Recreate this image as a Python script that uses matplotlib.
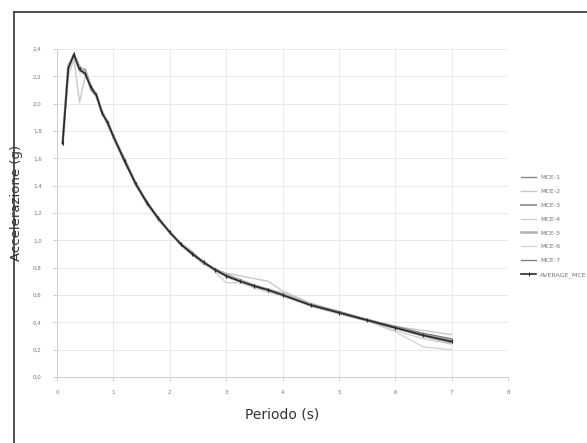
import matplotlib
matplotlib.use("Agg")
import matplotlib.pyplot as plt
from matplotlib.lines import Line2D

# ---- data ----
periods = [0.1, 0.2, 0.3, 0.4, 0.5, 0.6, 0.7, 0.8, 0.9, 1.0, 1.2, 1.4, 1.6, 1.8, 2.0,
           2.2, 2.4, 2.6, 2.8, 3.0, 3.25, 3.5, 3.75, 4.0, 4.5, 5.0, 5.5, 6.0, 6.5, 7.0]

mce1 = [1.70, 2.25, 2.37, 2.27, 2.24, 2.10, 2.05, 1.95, 1.85, 1.75, 1.60, 1.42, 1.26, 1.17, 1.05,
        0.98, 0.91, 0.83, 0.79, 0.73, 0.70, 0.67, 0.63, 0.60, 0.53, 0.47, 0.42, 0.37, 0.31, 0.27]
mce2 = [1.72, 2.20, 2.33, 2.01, 2.20, 2.14, 2.04, 1.92, 1.88, 1.74, 1.57, 1.43, 1.28, 1.15, 1.07,
        0.96, 0.89, 0.85, 0.79, 0.76, 0.74, 0.72, 0.70, 0.63, 0.54, 0.48, 0.42, 0.37, 0.34, 0.31]
mce3 = [1.71, 2.28, 2.35, 2.26, 2.25, 2.13, 2.07, 1.94, 1.86, 1.77, 1.59, 1.40, 1.28, 1.16, 1.06,
        0.97, 0.90, 0.84, 0.78, 0.74, 0.70, 0.66, 0.64, 0.60, 0.52, 0.47, 0.41, 0.36, 0.30, 0.25]
mce4 = [1.70, 2.24, 2.34, 2.23, 2.21, 2.11, 2.08, 1.92, 1.87, 1.78, 1.56, 1.42, 1.27, 1.17, 1.05,
        0.98, 0.92, 0.84, 0.77, 0.69, 0.69, 0.66, 0.63, 0.59, 0.52, 0.46, 0.41, 0.34, 0.28, 0.24]
mce5 = [1.71, 2.27, 2.36, 2.27, 2.23, 2.12, 2.06, 1.94, 1.85, 1.76, 1.58, 1.41, 1.27, 1.15, 1.06,
        0.97, 0.90, 0.83, 0.79, 0.75, 0.71, 0.67, 0.64, 0.61, 0.53, 0.47, 0.42, 0.36, 0.31, 0.27]
mce6 = [1.71, 2.27, 2.37, 2.26, 2.22, 2.12, 2.05, 1.93, 1.86, 1.75, 1.59, 1.40, 1.26, 1.16, 1.07,
        0.96, 0.90, 0.85, 0.78, 0.73, 0.69, 0.65, 0.62, 0.59, 0.52, 0.46, 0.41, 0.33, 0.22, 0.20]
mce7 = [1.71, 2.26, 2.36, 2.25, 2.22, 2.12, 2.06, 1.93, 1.86, 1.76, 1.58, 1.41, 1.28, 1.16, 1.06,
        0.97, 0.91, 0.84, 0.79, 0.74, 0.70, 0.67, 0.64, 0.60, 0.53, 0.48, 0.42, 0.37, 0.32, 0.28]
average = [1.71, 2.26, 2.36, 2.25, 2.22, 2.12, 2.06, 1.93, 1.86, 1.76, 1.58, 1.41, 1.27, 1.16, 1.06,
           0.97, 0.90, 0.84, 0.785, 0.74, 0.70, 0.665, 0.635, 0.60, 0.525, 0.47, 0.415, 0.36, 0.305, 0.26]

series_labels = ["MCE-1", "MCE-2", "MCE-3", "MCE-4", "MCE-5", "MCE-6", "MCE-7"]
avg_label = "AVERAGE_MCE"
xticks = [0, 1, 2, 3, 4, 5, 6, 7, 8]
yticks = [0.0, 0.2, 0.4, 0.6, 0.8, 1.0, 1.2, 1.4, 1.6, 1.8, 2.0, 2.2, 2.4]
ytick_labels = ["0,0", "0,2", "0,4", "0,6", "0,8", "1,0", "1,2", "1,4", "1,6", "1,8", "2,0", "2,2", "2,4"]
xlabel = "Periodo (s)"
ylabel = "Accelerazione (g)"

# ---- figure ----
fig = plt.figure(figsize=(5.87, 4.43), dpi=100)
fig.patch.set_facecolor("white")
ax = fig.add_axes([57/587, 1-377/443, (508-57)/587, (377-49)/443])

styles = [
    dict(color="#8a8a8a", lw=1.0),
    dict(color="#c8c8c8", lw=1.0),
    dict(color="#9a9a9a", lw=1.4),
    dict(color="#cdcdcd", lw=0.9),
    dict(color="#b0b0b0", lw=1.8),
    dict(color="#d2d2d2", lw=0.9),
    dict(color="#7a7a7a", lw=0.9),
]
for vals, lab, st in zip([mce1, mce2, mce3, mce4, mce5, mce6, mce7], series_labels, styles):
    ax.plot(periods, vals, label=lab, **st)
ax.plot(periods, average, label=avg_label, color="#2a2a2a", lw=1.2,
        marker="|", markersize=3, markeredgewidth=0.8)

ax.set_xlim(0, 8)
ax.set_ylim(0, 2.4)
ax.set_xticks(xticks)
ax.set_xticklabels([str(v) for v in xticks])
ax.set_yticks(yticks)
ax.set_yticklabels(ytick_labels)
ax.tick_params(axis="both", labelsize=4, labelcolor="#777777", color="#c8c8c8",
               length=3, width=0.6)
ax.tick_params(axis="y", pad=8)
ax.tick_params(axis="x", pad=6)
ax.grid(True, color="#e6e6e6", lw=0.6)
ax.set_axisbelow(True)
for s in ["top", "right"]:
    ax.spines[s].set_visible(False)
for s in ["left", "bottom"]:
    ax.spines[s].set_color("#c8c8c8")
    ax.spines[s].set_linewidth(0.6)

ax.set_xlabel(xlabel, fontsize=10, color="#333333", labelpad=9)
ax.set_ylabel(ylabel, fontsize=9.5, color="#333333")
ax.yaxis.set_label_coords(-0.075, 0.53)

fig.legend(loc="upper left", bbox_to_anchor=(521/587, 1-175/443), frameon=False,
           fontsize=4.6, labelcolor="#777777", handlelength=2.4, handletextpad=0.6,
           labelspacing=1.3, borderpad=0, borderaxespad=0)

# outer frame (left and top edges visible)
fig.add_artist(Line2D([13.5/587, 13.5/587], [0, 1-11.5/443], transform=fig.transFigure,
                      color="#333333", lw=1.2))
fig.add_artist(Line2D([13.5/587, 1], [1-11.5/443, 1-11.5/443], transform=fig.transFigure,
                      color="#333333", lw=1.2))

fig.savefig("out.png", dpi=100)
